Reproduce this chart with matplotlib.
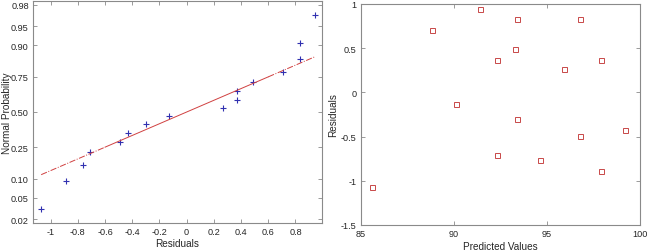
import matplotlib
matplotlib.use("Agg")
import matplotlib.pyplot as plt
import numpy as np
from statistics import NormalDist

# Data
predicted = [85.6, 88.8, 90.1, 91.4, 92.3, 92.3, 93.3, 93.4, 93.4, 94.6,
             95.9, 96.8, 96.8, 97.9, 97.9, 99.2]
residuals = [-1.07, 0.71, -0.13, 0.94, 0.37, -0.71, 0.49, 0.83, -0.30, -0.76,
             0.27, 0.83, -0.49, 0.37, -0.89, -0.43]
prob_ticks = [0.02, 0.05, 0.10, 0.25, 0.50, 0.75, 0.90, 0.95, 0.98]
prob_labels = ["0.02", "0.05", "0.10", "0.25", "0.50", "0.75", "0.90", "0.95", "0.98"]

nd = NormalDist()
plt.rcParams['font.family'] = ['Liberation Sans', 'DejaVu Sans']
plt.rcParams['font.size'] = 7
txt = '#262626'
spine = '#8a8a8a'

fig = plt.figure(figsize=(6.48, 2.51), dpi=100)

def style(ax):
    for s in ax.spines.values():
        s.set_color(spine)
        s.set_linewidth(0.8)
    ax.tick_params(direction='in', top=True, right=True, length=3, width=0.6,
                   colors=spine, labelcolor=txt, labelsize=6.6, pad=3)

# Left: normal probability plot
ax1 = fig.add_axes([33/648, 1-224/251, (322-33)/648, (224-2)/251])
r = np.sort(np.array(residuals))
n = len(r)
p = (np.arange(1, n+1) - 0.5) / n
z = np.array([nd.inv_cdf(v) for v in p])
ax1.plot(r, z, '+', color='#3030b0', markersize=4.5, markeredgewidth=0.8)
q1 = (r[3] + r[4]) / 2
q3 = (r[11] + r[12]) / 2
z1, z3 = nd.inv_cdf(0.25), nd.inv_cdf(0.75)
slope = (z3 - z1) / (q3 - q1)
f = lambda x: z1 + slope * (x - q1)
ax1.plot([q1, q3], [f(q1), f(q3)], '-', color='#d04040', lw=0.7)
ax1.plot([r[0], q1], [f(r[0]), f(q1)], '-.', color='#d04040', lw=0.7)
ax1.plot([q3, r[-1]], [f(q3), f(r[-1])], '-.', color='#d04040', lw=0.7)
ax1.set_xlim(-1.13, 0.995)
ax1.set_ylim(-2.13, 2.13)
ax1.set_yticks([nd.inv_cdf(v) for v in prob_ticks])
ax1.set_yticklabels(prob_labels)
ax1.set_xticks([-1, -0.8, -0.6, -0.4, -0.2, 0, 0.2, 0.4, 0.6, 0.8])
ax1.set_xticklabels(['-1', '-0.8', '-0.6', '-0.4', '-0.2', '0', '0.2', '0.4', '0.6', '0.8'])
ax1.set_xlabel('Residuals', fontsize=7.2, color=txt, labelpad=1.5)
ax1.set_ylabel('Normal Probability', fontsize=7.2, color=txt)
ax1.yaxis.set_label_coords(-0.073, 0.5)
style(ax1)

# Right: residuals vs predicted
ax2 = fig.add_axes([361/648, 1-226/251, (640-361)/648, (226-5)/251])
ax2.plot(predicted, residuals, 's', color='#c84848', markerfacecolor='none',
         markersize=3.6, markeredgewidth=0.7)
ax2.set_xlim(85, 100)
ax2.set_ylim(-1.5, 1)
ax2.set_xticks([85, 90, 95, 100])
ax2.set_yticks([-1.5, -1, -0.5, 0, 0.5, 1])
ax2.set_yticklabels(['-1.5', '-1', '-0.5', '0', '0.5', '1'])
ax2.set_xlabel('Predicted Values', fontsize=7.2, color=txt, labelpad=2)
ax2.set_ylabel('Residuals', fontsize=7.2, color=txt, labelpad=2)
style(ax2)

fig.savefig('out.png', dpi=100)
